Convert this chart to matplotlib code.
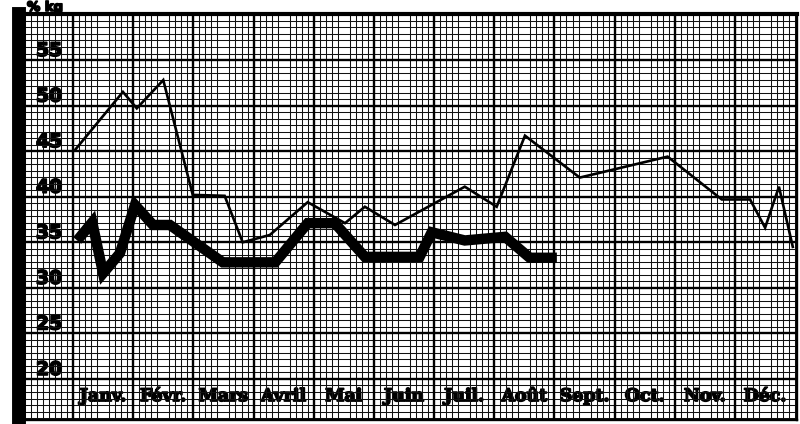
""" weight chart on graph paper """
import numpy as np
import matplotlib.pyplot as plt
import matplotlib.patheffects as pe
from matplotlib.ticker import MultipleLocator

''' data read off the chart (x in months from start of January, y in kg) '''
months = ['Janv.', 'Févr.', 'Mars', 'Avril', 'Mai', 'Juin', 'Juil.', 'Août',
          'Sept.', 'Oct.', 'Nov.', 'Déc.']
y_ticks = [20, 25, 30, 35, 40, 45, 50, 55]

# thin line
thin_x = [0.03, 0.83, 1.06, 1.50, 1.99, 2.52, 2.82, 3.27, 3.90, 4.52, 4.85,
          5.35, 6.51, 7.04, 7.51, 8.42, 9.88, 10.78, 11.25, 11.50, 11.73, 11.96]
thin_y = [45.1, 51.5, 49.7, 52.8, 40.2, 40.1, 35.0, 35.8, 39.4, 37.1, 38.9,
          36.9, 41.1, 38.9, 46.7, 42.1, 44.4, 39.7, 39.7, 36.6, 41.1, 34.5]

# thick line
thick_x = [0.07, 0.32, 0.50, 0.78, 1.03, 1.33, 1.61, 2.49, 3.36, 3.90, 4.35,
           4.85, 5.76, 5.96, 6.51, 7.18, 7.59, 8.04]
thick_y = [35.2, 37.2, 31.6, 33.8, 39.1, 36.9, 36.9, 32.8, 32.8, 37.1, 37.1,
           33.4, 33.4, 36.1, 35.2, 35.6, 33.3, 33.3]

''' figure and axes '''
fig = plt.figure(figsize=(8, 4.24), dpi=100)
ax = fig.add_axes([19 / 800, 4 / 424, 778 / 800, 406 / 424])
ax.set_xlim(-0.897, 12.03)
ax.set_ylim(15.5, 60.05)

''' graph paper grid '''
ax.xaxis.set_minor_locator(MultipleLocator(0.1))
ax.yaxis.set_minor_locator(MultipleLocator(5 / 7))
ax.grid(which='minor', color='#111111', linewidth=0.75)
ax.tick_params(which='minor', length=0)
for m in range(0, 12):
    ax.axvline(m, color='black', linewidth=1.7, zorder=1)
for v in y_ticks:
    ax.axhline(v, color='black', linewidth=1.7, zorder=1)
ax.set_axisbelow(True)

ax.spines['left'].set_linewidth(10)
ax.spines['top'].set_linewidth(3)
ax.spines['right'].set_linewidth(1.7)
ax.spines['bottom'].set_linewidth(1.7)

''' the two curves '''
ax.plot(thin_x, thin_y, color='black', linewidth=1.9, solid_joinstyle='miter', zorder=3)
ax.plot(thick_x, thick_y, color='black', linewidth=7.5, solid_joinstyle='miter',
        solid_capstyle='butt', zorder=3)

''' labels drawn inside the paper '''
heavy = [pe.withStroke(linewidth=1.2, foreground='black')]

ax.set_yticks(y_ticks, labels=[str(v) for v in y_ticks])
ax.tick_params(axis='y', length=0, pad=-31)
for lbl in ax.get_yticklabels():
    lbl.set_va('bottom')
    lbl.set_fontsize(13.5)
    lbl.set_fontweight('heavy')
    lbl.set_fontfamily('DejaVu Sans')
    lbl.set_path_effects(heavy)

ax.set_xticks(np.arange(12) + 0.5, labels=months)
ax.tick_params(axis='x', length=0, pad=-23)
for lbl in ax.get_xticklabels():
    lbl.set_fontsize(12.5)
    lbl.set_fontweight('heavy')
    lbl.set_fontfamily('DejaVu Serif')
    lbl.set_path_effects(heavy)

fig.text(27 / 800, 1 - 1 / 424, '% kg', fontsize=9.5, fontweight='heavy', va='top',
         path_effects=heavy)

fig.savefig('out.png', dpi=100)
